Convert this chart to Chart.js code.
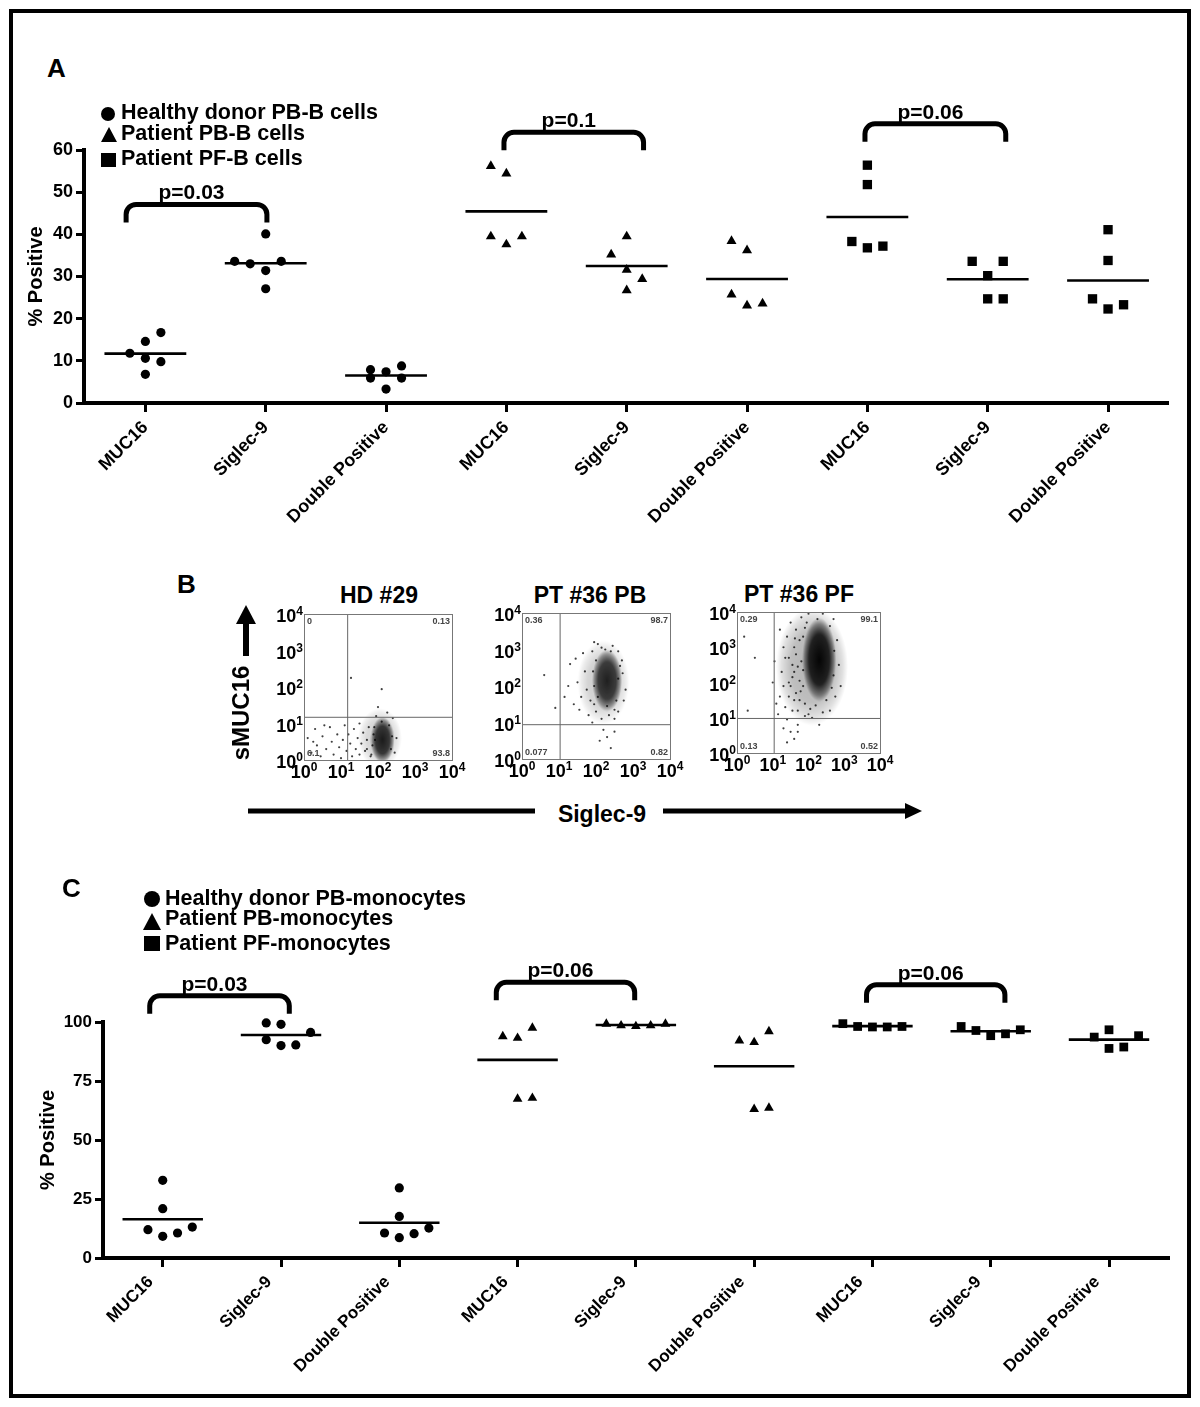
<!DOCTYPE html>
<html>
<head>
<meta charset="utf-8">
<script src="https://cdn.jsdelivr.net/npm/chart.js@4.4.1/dist/chart.umd.min.js"></script>
<style>
  html, body { margin: 0; padding: 0; background: #fff; }
  #page { position: relative; width: 1200px; height: 1407px; overflow: hidden;
          font-family: "Liberation Sans", Arial, sans-serif; font-weight: bold; color: #000; }
  #frame { position: absolute; left: 9px; top: 9px; width: 1182px; height: 1389px;
           border: 4px solid #000; box-sizing: border-box; }
  canvas { position: absolute; }
  .t { position: absolute; white-space: nowrap; line-height: 1; }
  .dot { position: absolute; background: #000; border-radius: 50%; }
  .sq { position: absolute; background: #000; }
  .tri { position: absolute; width: 0; height: 0; border-style: solid;
         border-color: transparent transparent #000 transparent; }
</style>
</head>
<body>
<div id="page">
  <div id="frame"></div>

  <!-- panel A -->
  <div class="t" style="left:47px;top:55px;font-size:26px">A</div>
  <canvas id="chartA" width="1200" height="440" style="left:0;top:100px"></canvas>
  <div class="dot" style="left:101px;top:107px;width:14px;height:14px"></div>
  <div class="tri" style="left:101px;top:127px;border-width:0 8px 15px 8px"></div>
  <div class="sq" style="left:101px;top:153px;width:15px;height:14px"></div>
  <div class="t" style="left:121px;top:102px;font-size:21.5px">Healthy donor PB-B cells</div>
  <div class="t" style="left:121px;top:123px;font-size:21.5px">Patient PB-B cells</div>
  <div class="t" style="left:121px;top:148px;font-size:21.5px">Patient PF-B cells</div>

  <!-- panel B -->
  <div class="t" style="left:177px;top:571px;font-size:26px">B</div>
  <div class="t" style="left:379px;top:584px;font-size:23px;transform:translateX(-50%)">HD #29</div>
  <div class="t" style="left:590px;top:584px;font-size:23px;transform:translateX(-50%)">PT #36 PB</div>
  <div class="t" style="left:799px;top:583px;font-size:23px;transform:translateX(-50%)">PT #36 PF</div>
  <canvas id="flow0" width="218" height="188" style="left:249px;top:602px"></canvas>
  <canvas id="flow1" width="218" height="188" style="left:467px;top:601px"></canvas>
  <canvas id="flow2" width="213" height="183" style="left:682px;top:600px"></canvas>
  <div class="t" style="left:241px;top:713px;font-size:24px;transform:translate(-50%,-50%) rotate(-90deg)">sMUC16</div>
  <div class="t" style="left:602px;top:803px;font-size:23px;transform:translateX(-50%)">Siglec-9</div>
  <svg width="1200" height="1407" style="position:absolute;left:0;top:0">
    <line x1="246" y1="656" x2="246" y2="620" stroke="#000" stroke-width="6"/>
    <polygon points="246,605 236,624 256,624" fill="#000"/>
    <line x1="248" y1="811" x2="535" y2="811" stroke="#000" stroke-width="5"/>
    <line x1="663" y1="811" x2="908" y2="811" stroke="#000" stroke-width="5"/>
    <polygon points="922,811 905,803 905,819" fill="#000"/>
  </svg>

  <!-- panel C -->
  <div class="t" style="left:62px;top:875px;font-size:26px">C</div>
  <canvas id="chartC" width="1200" height="440" style="left:0;top:950px"></canvas>
  <div class="dot" style="left:144px;top:891px;width:16px;height:16px"></div>
  <div class="tri" style="left:143px;top:913px;border-width:0 9px 17px 9px"></div>
  <div class="sq" style="left:144px;top:936px;width:16px;height:15px"></div>
  <div class="t" style="left:165px;top:888px;font-size:21.5px">Healthy donor PB-monocytes</div>
  <div class="t" style="left:165px;top:908px;font-size:21.5px">Patient PB-monocytes</div>
  <div class="t" style="left:165px;top:933px;font-size:21.5px">Patient PF-monocytes</div>
</div>

<script>
// ====================
// DATA
// ====================
const categories = ['MUC16', 'Siglec-9', 'Double Positive', 'MUC16', 'Siglec-9', 'Double Positive',
                    'MUC16', 'Siglec-9', 'Double Positive'];

// panel A: % positive B cells, one list per column
const bcellHealthy = [[16.7, 14.6, 11.8, 10.6, 9.8, 6.8], [40.1, 33.6, 33.0, 33.6, 31.4, 27.1], [7.9, 7.4, 8.8, 5.9, 5.9, 3.3]];
const bcellPatientPB = [[56.2, 54.4, 39.5, 37.6, 39.5], [39.5, 35.2, 31.6, 29.4, 26.7], [38.4, 36.2, 25.7, 23.1, 23.6]];
const bcellPatientPF = [[56.4, 51.8, 38.3, 36.8, 37.2], [33.6, 33.6, 30.2, 24.7, 24.7], [41.1, 33.8, 24.7, 22.3, 23.3]];
const bcellTicks = [0, 10, 20, 30, 40, 50, 60];
const bcellPvalues = ['p=0.03', 'p=0.1', 'p=0.06'];

// panel C: % positive monocytes
const monoHealthy = [[32.9, 20.9, 12.0, 9.2, 10.6, 13.1], [99.6, 99.0, 95.6, 92.5, 90.0, 90.3], [29.7, 17.6, 10.6, 8.6, 10.3, 12.7]];
const monoPatientPB = [[93.9, 93.2, 97.5, 67.4, 67.8], [99.2, 98.5, 98.2, 98.5, 99.2], [92.1, 91.4, 96.0, 63.1, 63.6]];
const monoPatientPF = [[99.3, 98.1, 97.9, 97.9, 98.1], [98.1, 96.4, 94.2, 95.0, 96.7], [93.6, 96.7, 94.2, 88.8, 89.4]];
const monoTicks = [0, 25, 50, 75, 100];
const monoPvalues = ['p=0.03', 'p=0.06', 'p=0.06'];

// panel B: flow plots (log10 units), gates and quadrant percentages
const flowQuadrants = [[1.18, 1.17], [1.03, 0.94], [1.04, 0.98]];
const flowPercents = [['0', '0.13', '6.1', '93.8'], ['0.36', '98.7', '0.077', '0.82'], ['0.29', '99.1', '0.13', '0.52']];
const flowTicks = [0, 1, 2, 3, 4];

// dense population centre, its fainter surround, then single scattered events
const hdCore = [[2.12, 0.55]];
const hdSpread = [[2.05, 0.6]];
const hdEvents = [[0.1, 0.6], [0.2, 0.2], [0.3, 0.85], [0.35, 0.4], [0.45, 0.1], [0.5, 0.65], [0.6, 0.3], [0.7, 0.9],
  [0.75, 0.5], [0.8, 0.15], [0.9, 0.7], [0.95, 0.35], [1.0, 0.05], [1.05, 0.55], [1.1, 0.95], [1.15, 0.25],
  [1.2, 0.7], [1.25, 0.45], [1.3, 0.1], [1.35, 0.85], [1.4, 0.3], [1.45, 0.6], [1.5, 0.15], [1.5, 1.0],
  [1.55, 0.45], [1.6, 0.75], [1.65, 0.25], [1.7, 0.55], [1.75, 0.9], [1.8, 0.1], [0.55, 0.95], [0.25, 0.5],
  [1.27, 2.25], [2.1, 1.94], [2.0, 1.45], [2.25, 1.3], [1.95, 1.2], [2.4, 1.15], [2.5, 0.6], [2.45, 0.2],
  [1.85, 0.4], [2.35, 0.3], [1.9, 0.9], [2.3, 0.95], [2.1, 1.05], [1.7, 0.3], [1.88, 0.7], [2.38, 0.65],
  [1.82, 0.15], [1.92, 0.55]];

const pbCore = [[2.3, 2.15]];
const pbSpread = [[2.2, 2.1]];
const pbEvents = [[1.3, 2.6], [1.5, 2.1], [1.6, 1.7], [1.7, 2.4], [1.4, 1.5], [1.8, 1.2], [1.9, 2.95], [2.05, 3.15],
  [2.6, 2.95], [2.75, 1.6], [2.5, 1.1], [2.2, 0.8], [2.3, 0.6], [2.1, 0.5], [2.4, 0.3], [0.6, 2.3], [1.15, 1.7],
  [1.65, 2.9], [1.9, 1.0], [2.6, 1.3], [2.72, 2.35], [1.75, 1.9], [1.85, 1.6], [2.0, 1.3], [2.45, 3.1],
  [1.25, 2.0], [1.45, 2.75], [2.7, 2.7], [2.35, 1.2], [2.15, 1.1], [1.55, 1.35], [2.5, 0.75], [0.9, 1.4],
  [2.8, 1.9], [1.95, 3.2], [1.95, 2.0], [2.6, 2.2], [2.0, 2.7], [2.55, 1.6], [2.3, 1.45], [2.25, 3.0],
  [1.95, 1.5], [1.92, 2.4], [2.65, 2.55], [2.05, 1.7], [2.5, 1.35], [2.15, 3.05], [2.4, 2.95]];

const pfCore = [[2.3, 2.65]];
const pfSpread = [[2.1, 2.45]];
const pfEvents = [[1.15, 1.1], [1.2, 1.6], [1.25, 2.3], [1.3, 3.0], [1.2, 3.5], [1.35, 1.3], [1.4, 0.95], [1.5, 1.9],
  [1.55, 2.5], [1.5, 3.7], [1.55, 1.2], [1.65, 3.5], [1.7, 0.8], [1.75, 2.05], [1.8, 3.85], [1.9, 1.05],
  [2.0, 3.95], [2.1, 1.0], [2.4, 1.15], [2.6, 1.2], [2.75, 1.6], [2.85, 2.5], [2.8, 3.2], [2.7, 3.8],
  [2.4, 3.95], [1.3, 1.9], [1.35, 2.7], [1.6, 1.5], [1.65, 2.8], [1.75, 1.5], [1.05, 2.6], [0.3, 1.2],
  [0.5, 2.7], [0.2, 3.3], [1.5, 0.6], [1.6, 0.4], [1.4, 0.3], [1.7, 0.6], [1.3, 0.7], [2.3, 0.8],
  [1.1, 1.4], [1.0, 2.0], [2.9, 1.9], [1.45, 1.6], [1.85, 2.35], [1.85, 3.3], [1.8, 2.6], [1.85, 1.9],
  [1.9, 1.4], [2.2, 1.35], [2.5, 1.5], [2.7, 2.2], [2.72, 2.9], [2.6, 3.6], [2.25, 3.8], [1.95, 3.7],
  [1.6, 3.0], [1.6, 2.3], [1.65, 1.7], [1.7, 1.2], [1.45, 2.0], [1.45, 2.7], [1.4, 3.3], [2.0, 1.1],
  [1.75, 3.2], [1.7, 2.45], [1.78, 1.75], [1.55, 2.15], [1.62, 3.25], [1.9, 3.55], [2.65, 1.85], [2.05, 1.25]];

// ====================
// LAYOUT HELPERS (not data)
// ====================
// horizontal slot of every marker inside its column (scatter jitter)
const bcellSlots = [[1, 0, -1, 0, 1, 0], [0, -2, -1, 1, 0, 0], [-1, 0, 1, -1, 1, 0], [-1, 0, -1, 0, 1], [0, -1, 0, 1, 0],
  [-1, 0, -1, 0, 1], [0, 0, -1, 0, 1], [-1, 1, 0, 0, 1], [0, 0, -1, 0, 1]];
const monoSlots = [[0, 0, -1, 0, 1, 2], [-1, 0, 2, -1, 0, 1], [0, 0, -1, 0, 1, 2], [-1, 0, 1, 0, 1], [-2, -1, 0, 1, 2],
  [-1, 0, 1, 0, 1], [-2, -1, 0, 1, 2], [-2, -1, 0, 1, 2], [-1, 0, 2, 0, 1]];

const FONT = '"Liberation Sans", Arial, sans-serif';
Chart.defaults.font.family = FONT;
Chart.defaults.font.weight = 'bold';
Chart.defaults.color = '#000';

const markerStyles = ['circle', 'triangle', 'rect'];
const mean = a => a.reduce((s, v) => s + v, 0) / a.length;

// comparison brackets with p-values
function bracketPlugin(items) {
  return {
    id: 'brackets',
    afterDatasetsDraw(chart) {
      const { ctx, scales: { x, y } } = chart;
      ctx.save();
      ctx.lineWidth = 5;
      ctx.strokeStyle = '#000';
      ctx.fillStyle = '#000';
      ctx.font = 'bold 21px ' + FONT;
      ctx.textAlign = 'center';
      items.forEach(b => {
        const x1 = x.getPixelForValue(b.from), x2 = x.getPixelForValue(b.to);
        const yt = y.getPixelForValue(b.top), ye = yt + 18, r = 10;
        ctx.beginPath();
        ctx.moveTo(x1, ye);
        ctx.arcTo(x1, yt, x1 + r, yt, r);
        ctx.arcTo(x2, yt, x2, yt + r, r);
        ctx.lineTo(x2, ye);
        ctx.stroke();
        ctx.fillText(b.label, (x1 + x2) / 2 - 5, yt - 5);
      });
      ctx.restore();
    }
  };
}

function dotPlot(id, groups, slots, ticks, brackets, g) {
  const columns = groups.flat();
  const datasets = [];
  columns.forEach((vals, i) => {
    const style = markerStyles[Math.floor(i / 3)];
    datasets.push({
      data: vals.map((v, k) => ({ x: i + slots[i][k] * g.step, y: v })),
      pointStyle: style,
      pointRadius: g.radius[style],
      pointBackgroundColor: '#000',
      pointBorderWidth: 0,
      showLine: false,
      clip: false
    });
    const m = mean(vals);
    datasets.push({
      data: [{ x: i - g.half, y: m }, { x: i + g.half, y: m }],
      showLine: true,
      borderColor: '#000',
      borderWidth: 2.6,
      pointRadius: 0,
      clip: false
    });
  });

  new Chart(document.getElementById(id), {
    type: 'scatter',
    data: { datasets },
    options: {
      responsive: false,
      animation: false,
      layout: { padding: g.padding, autoPadding: false },
      plugins: { legend: { display: false }, tooltip: { enabled: false } },
      scales: {
        x: {
          type: 'linear', min: g.xMin, max: g.xMax,
          afterBuildTicks: s => { s.ticks = categories.map((c, i) => ({ value: i })); },
          afterFit: s => { s.height = g.xHeight; },
          ticks: {
            callback: v => categories[v], autoSkip: false, minRotation: 45, maxRotation: 45,
            font: { size: g.labelSize, weight: 'bold' }, color: '#000', padding: 5, labelOffset: g.labelOffset
          },
          grid: { display: true, drawOnChartArea: false, drawTicks: true, tickLength: 9, color: '#000', lineWidth: 3 },
          border: { display: true, color: '#000', width: 4 }
        },
        y: {
          type: 'linear', min: 0, max: ticks[ticks.length - 1],
          afterBuildTicks: s => { s.ticks = ticks.map(v => ({ value: v })); },
          afterFit: s => { s.width = g.yWidth; },
          ticks: { font: { size: g.tickSize, weight: 'bold' }, color: '#000', padding: 3 },
          grid: { display: true, drawOnChartArea: false, drawTicks: true, tickLength: 8, color: '#000', lineWidth: 3 },
          border: { display: true, color: '#000', width: 4 },
          title: { display: true, text: '% Positive', color: '#000',
                   font: { size: 20, weight: 'bold' }, padding: { top: 4, bottom: 0 } }
        }
      }
    },
    plugins: [bracketPlugin(brackets)]
  });
}

// ====================
// PANEL A
// ====================
dotPlot('chartA', [bcellHealthy, bcellPatientPB, bcellPatientPF], bcellSlots, bcellTicks, [
  { from: -0.16, to: 1.01, top: 47.1, label: bcellPvalues[0] },
  { from: 2.98, to: 4.14, top: 64.2, label: bcellPvalues[1] },
  { from: 5.98, to: 7.15, top: 66.2, label: bcellPvalues[2] }
], {
  padding: { top: 50, left: 20, right: 33, bottom: 0 },
  xMin: -0.51, xMax: 8.49, xHeight: 137, yWidth: 64,
  tickSize: 18, labelSize: 18, labelOffset: 0,
  step: 0.129, half: 0.34,
  radius: { circle: 4.6, triangle: 5.8, rect: 6.6 }
});

// ====================
// PANEL C
// ====================
dotPlot('chartC', [monoHealthy, monoPatientPB, monoPatientPF], monoSlots, monoTicks, [
  { from: -0.11, to: 1.07, top: 111.1, label: monoPvalues[0] },
  { from: 2.82, to: 3.99, top: 116.8, label: monoPvalues[1] },
  { from: 5.95, to: 7.12, top: 115.8, label: monoPvalues[2] }
], {
  padding: { top: 72, left: 32, right: 31.5, bottom: 0 },
  xMin: -0.505, xMax: 8.503, xHeight: 132, yWidth: 71,
  tickSize: 17, labelSize: 17, labelOffset: -12,
  step: 0.125, half: 0.34,
  radius: { circle: 4.6, triangle: 5.6, rect: 6.2 }
});

// ====================
// PANEL B (flow dot plots)
// ====================
// soft elliptical spot used as point style for dense populations
function blob(w, h, dark) {
  const c = document.createElement('canvas');
  c.width = w;
  c.height = h;
  const g = c.getContext('2d');
  g.translate(w / 2, h / 2);
  g.scale(w / h, 1);
  const grd = g.createRadialGradient(0, 0, 0, 0, 0, h / 2);
  grd.addColorStop(0, `rgba(0,0,0,${dark})`);
  grd.addColorStop(0.6, `rgba(0,0,0,${dark * 0.85})`);
  grd.addColorStop(0.85, `rgba(0,0,0,${dark * 0.4})`);
  grd.addColorStop(1, 'rgba(0,0,0,0)');
  g.fillStyle = grd;
  g.beginPath();
  g.arc(0, 0, h / 2, 0, Math.PI * 2);
  g.fill();
  return c;
}

// "10" with a raised exponent
function drawPower(ctx, n, x, y, align) {
  ctx.font = 'bold 18px ' + FONT;
  const bw = ctx.measureText('10').width;
  ctx.font = 'bold 12px ' + FONT;
  const ew = ctx.measureText(String(n)).width;
  const left = align === 'right' ? x - bw - ew : x - (bw + ew) / 2;
  ctx.textAlign = 'left';
  ctx.textBaseline = 'alphabetic';
  ctx.font = 'bold 18px ' + FONT;
  ctx.fillText('10', left, y);
  ctx.font = 'bold 12px ' + FONT;
  ctx.fillText(String(n), left + bw, y - 7);
}

function flowFrame(percents) {
  return {
    id: 'flowFrame',
    afterDatasetsDraw(chart) {
      const { ctx, chartArea: a, scales: { x, y } } = chart;
      ctx.save();
      ctx.strokeStyle = '#777';
      ctx.lineWidth = 1;
      ctx.strokeRect(a.left + 0.5, a.top + 0.5, a.width, a.height);
      ctx.fillStyle = '#444';
      ctx.font = 'bold 9px ' + FONT;
      ctx.textBaseline = 'top';
      ctx.textAlign = 'left';
      ctx.fillText(percents[0], a.left + 3, a.top + 3);
      ctx.textAlign = 'right';
      ctx.fillText(percents[1], a.right - 2, a.top + 3);
      ctx.textBaseline = 'bottom';
      ctx.textAlign = 'left';
      ctx.fillText(percents[2], a.left + 3, a.bottom - 2);
      ctx.textAlign = 'right';
      ctx.fillText(percents[3], a.right - 2, a.bottom - 2);
      // axis tick labels
      ctx.fillStyle = '#000';
      flowTicks.forEach(v => {
        drawPower(ctx, v, a.left - 1, y.getPixelForValue(v) + 8, 'right');
        drawPower(ctx, v, x.getPixelForValue(v), a.bottom + 18, 'center');
      });
      ctx.restore();
    }
  };
}

function flowPlot(id, core, spread, events, gate, percents, spot, haze) {
  const pts = arr => arr.map(p => ({ x: p[0], y: p[1] }));
  const axis = (fit) => ({
    type: 'linear', min: 0, max: 4,
    afterBuildTicks: s => { s.ticks = flowTicks.map(v => ({ value: v })); },
    afterFit: fit,
    ticks: { display: false },
    grid: { display: false, drawTicks: false },
    border: { display: false }
  });
  new Chart(document.getElementById(id), {
    type: 'scatter',
    data: {
      datasets: [
        { data: [{ x: gate[0], y: 0 }, { x: gate[0], y: 4 }], showLine: true, borderColor: '#666', borderWidth: 1, pointRadius: 0 },
        { data: [{ x: 0, y: gate[1] }, { x: 4, y: gate[1] }], showLine: true, borderColor: '#666', borderWidth: 1, pointRadius: 0 },
        { data: pts(events), pointRadius: 1.1, pointBackgroundColor: 'rgba(0,0,0,0.75)', pointBorderWidth: 0 },
        { data: pts(core), pointStyle: blob(spot.w, spot.h, spot.dark), pointRadius: spot.h / 2 },
        { data: pts(spread), pointStyle: blob(haze.w, haze.h, haze.dark), pointRadius: haze.h / 2 }
      ]
    },
    options: {
      responsive: false,
      animation: false,
      layout: { padding: { top: 12, right: 15, left: 0, bottom: 0 }, autoPadding: false },
      plugins: { legend: { display: false }, tooltip: { enabled: false } },
      scales: {
        x: axis(s => { s.height = 30; }),
        y: axis(s => { s.width = 55; })
      }
    },
    plugins: [flowFrame(percents)]
  });
}

flowPlot('flow0', hdCore, hdSpread, hdEvents, flowQuadrants[0], flowPercents[0],
  { w: 24, h: 46, dark: 0.88 }, { w: 44, h: 60, dark: 0.18 });
flowPlot('flow1', pbCore, pbSpread, pbEvents, flowQuadrants[1], flowPercents[1],
  { w: 30, h: 62, dark: 0.85 }, { w: 52, h: 84, dark: 0.2 });
flowPlot('flow2', pfCore, pfSpread, pfEvents, flowQuadrants[2], flowPercents[2],
  { w: 34, h: 84, dark: 0.98 }, { w: 72, h: 118, dark: 0.3 });
</script>
</body>
</html>
